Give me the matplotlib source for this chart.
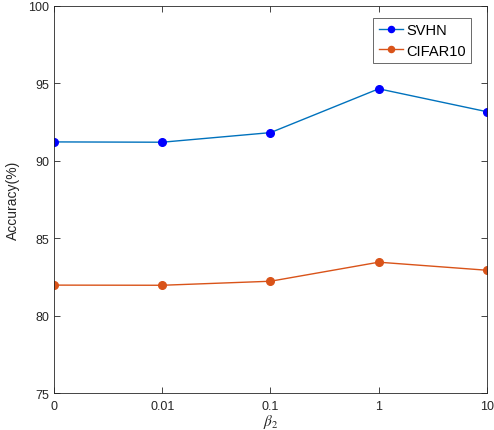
import matplotlib
matplotlib.use("Agg")
import matplotlib.pyplot as plt

x_labels = ["0", "0.01", "0.1", "1", "10"]
svhn = [91.22, 91.20, 91.82, 94.65, 93.17]
cifar10 = [81.97, 81.96, 82.22, 83.45, 82.93]

plt.rcParams.update({
    "font.family": "Liberation Sans",
    "font.size": 9,
    "mathtext.fontset": "stix",
})

AX_COLOR = "#262626"

fig = plt.figure(figsize=(4.94, 4.31), dpi=100)
ax = fig.add_axes([0.1093, 0.0858, 0.8765, 0.898])

pos = list(range(len(x_labels)))
ax.plot(pos, svhn, color="#0072BD", linewidth=1.0, marker="o", markersize=5.5,
        markerfacecolor="#0000FF", markeredgecolor="#0000FF", label="SVHN")
ax.plot(pos, cifar10, color="#D95319", linewidth=1.0, marker="o", markersize=5.5,
        markerfacecolor="#D95319", markeredgecolor="#D95319", label="CIFAR10")

ax.set_xlim(0, 4)
ax.set_ylim(75, 100)
ax.set_xticks(pos)
ax.set_xticklabels(x_labels)
ax.set_yticks([75, 80, 85, 90, 95, 100])

ax.tick_params(direction="in", top=True, right=True, length=4, width=0.6,
               colors=AX_COLOR, labelsize=9)
ax.tick_params(axis="x", pad=5)
for sp in ax.spines.values():
    sp.set_color(AX_COLOR)
    sp.set_linewidth(0.6)

ax.set_xlabel(r"$\beta_2$", fontsize=11, color=AX_COLOR, labelpad=0)
ax.set_ylabel("Accuracy(%)", fontsize=10, color=AX_COLOR, labelpad=6)

leg = ax.legend(loc="upper right", fontsize=10.5, frameon=True, fancybox=False,
                handlelength=1.7, handletextpad=0.2, borderpad=0.35,
                labelspacing=0.45, markerscale=0.8,
                bbox_to_anchor=(0.98, 0.988))
leg.get_frame().set_edgecolor(AX_COLOR)
leg.get_frame().set_linewidth(0.6)

fig.savefig("out.png", dpi=100)
